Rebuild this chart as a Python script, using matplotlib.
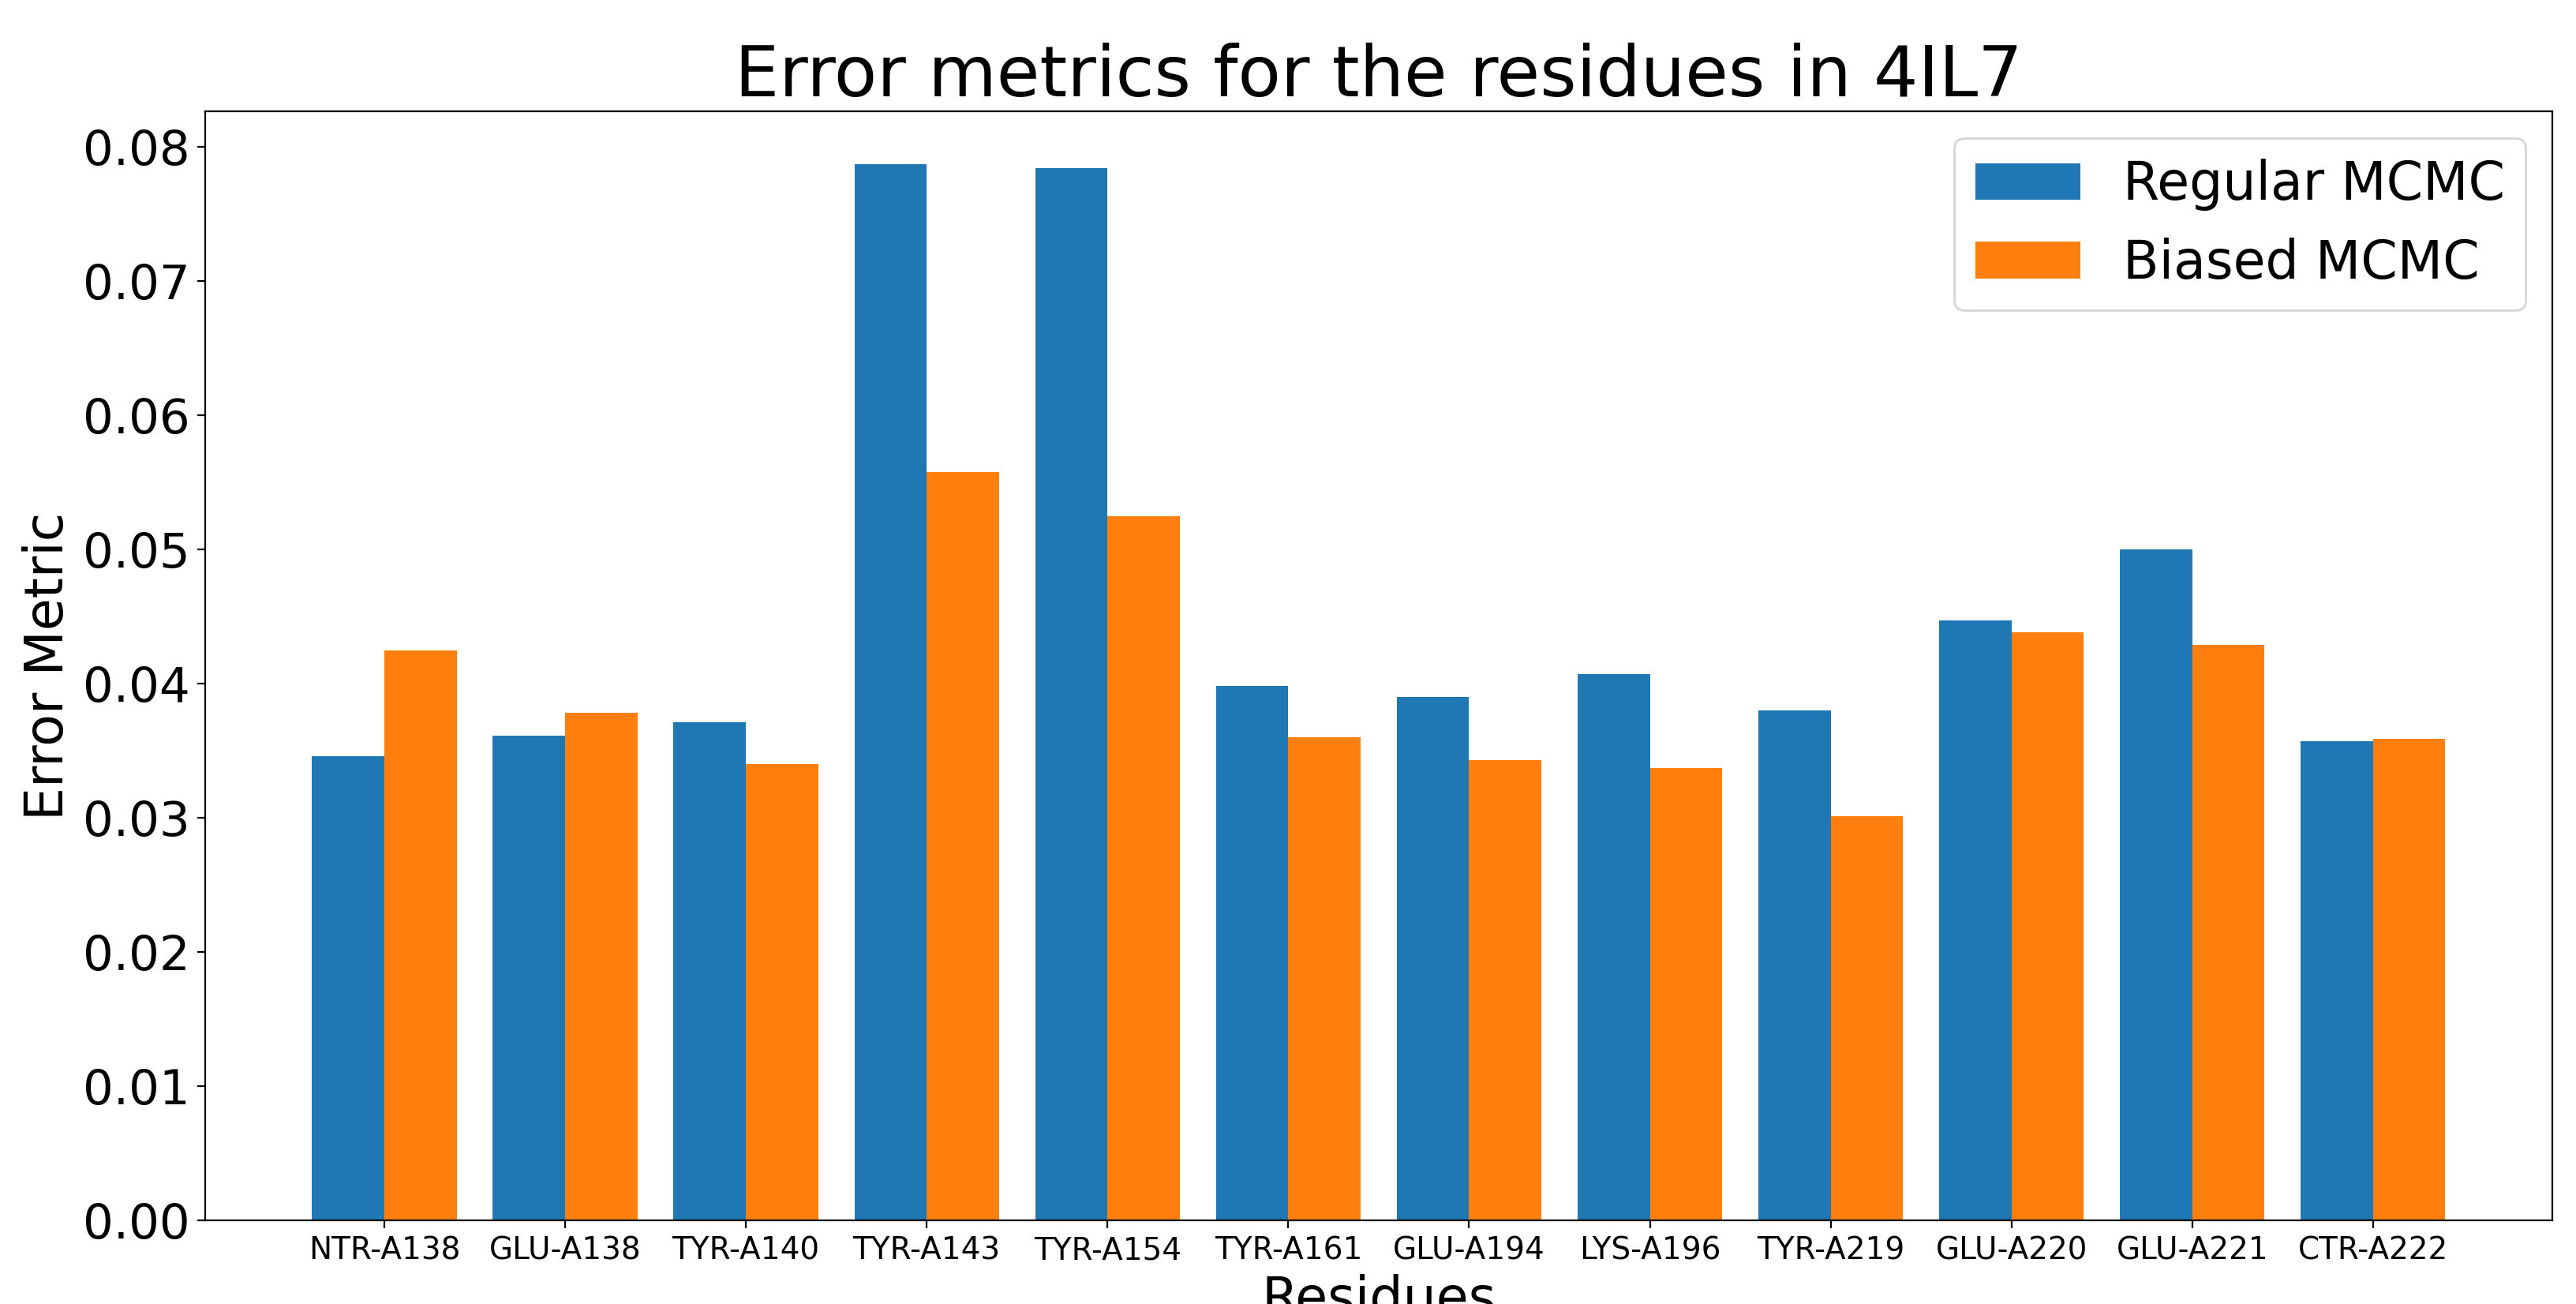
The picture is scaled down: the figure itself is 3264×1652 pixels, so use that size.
import numpy as np
import matplotlib
matplotlib.use("Agg")
import matplotlib.pyplot as plt

residues = ['NTR-A138', 'GLU-A138', 'TYR-A140', 'TYR-A143', 'TYR-A154', 'TYR-A161',
            'GLU-A194', 'LYS-A196', 'TYR-A219', 'GLU-A220', 'GLU-A221', 'CTR-A222']
regular = [0.0346, 0.0361, 0.0371, 0.0787, 0.0784, 0.0398,
           0.0390, 0.0407, 0.0380, 0.0447, 0.0500, 0.0357]
biased = [0.0425, 0.0378, 0.0340, 0.0558, 0.0525, 0.0360,
          0.0343, 0.0337, 0.0301, 0.0438, 0.0429, 0.0359]

x = np.arange(len(residues))
width = 0.4

fig = plt.figure(figsize=(16.32, 8.26), dpi=200)
ax = fig.add_axes([0.0797, 0.0642, 0.9110, 0.8502])
ax.bar(x - width / 2, regular, width, label='Regular MCMC')
ax.bar(x + width / 2, biased, width, label='Biased MCMC')

ax.set_xticks(x)
ax.set_xticklabels(residues, fontsize=14)
ax.tick_params(axis='y', labelsize=22)
# label sits partly below the figure edge, as in the original
ax.set_xlabel('Residues', fontsize=24)
ax.set_ylabel('Error Metric', fontsize=24)
ax.set_title('Error metrics for the residues in 4IL7', fontsize=32)
ax.legend(fontsize=24)

fig.savefig('out.png', dpi=200)
